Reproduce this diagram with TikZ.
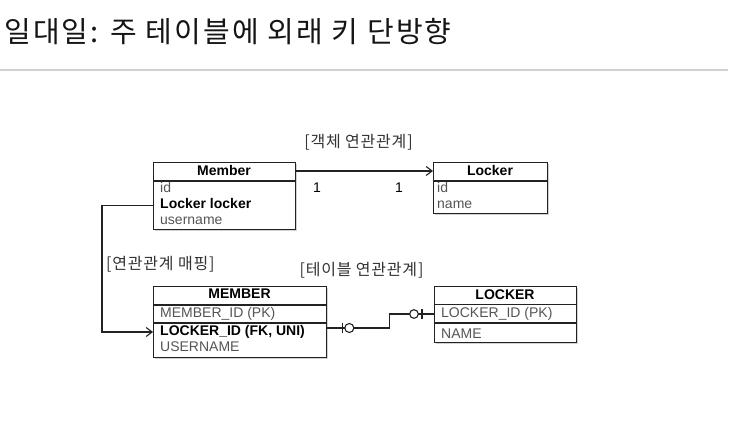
\documentclass[tikz,border=0pt]{standalone}
\usepackage{fontspec}
\setmainfont{Liberation Sans}
\newfontfamily\kr{Noto Sans CJK KR}
\newfontfamily\krwide[LetterSpace=7.5]{Noto Sans CJK KR}
\newfontfamily\krlab[LetterSpace=5]{Noto Sans CJK KR}
\usetikzlibrary{arrows.meta,shadows,calc}
\definecolor{ln}{HTML}{222222}
\definecolor{gtx}{HTML}{555555}
\definecolor{ktx}{HTML}{333333}
\definecolor{tcol}{HTML}{151515}
\definecolor{rulec}{HTML}{D0D0D0}
\begin{document}
\begin{tikzpicture}[x=1pt,y=-1pt,
  box/.style={draw=ln, line width=1.3pt, fill=white, inner sep=0, anchor=north west,
    drop shadow={shadow xshift=1.3pt, shadow yshift=-1.6pt, opacity=0.35}},
  sepline/.style={draw=ln, line width=1.3pt},
  hdr/.style={font=\fontsize{14}{16}\selectfont\bfseries, inner sep=0, anchor=base, text=black},
  row/.style={font=\fontsize{14}{16}\selectfont, inner sep=0, anchor=base west, text height=10pt, text depth=3pt, text=gtx},
  brow/.style={row, font=\fontsize{14}{16}\selectfont\bfseries, text=black},
  lab/.style={font=\krlab\fontsize{16}{18}\selectfont, text=ktx, inner sep=0},
  num/.style={font=\fontsize{14}{16}\selectfont, text=black, inner sep=0},
  conn/.style={draw=ln, line width=1.1pt},
  tip/.style={-{Straight Barb[length=6pt,width=9pt,line width=1.1pt]}}
]
\useasboundingbox[fill=white] (0,0) rectangle (747,422);

% title
\node[font=\krwide\fontsize{29}{34}\selectfont, anchor=base west, inner sep=0, text=tcol] (title) at (4,43) {일대일: 주 테이블에 외래 키 단방향};
\draw[draw=rulec, line width=2pt] (0,70) -- (728,70);

% Member (object)
\node[box, minimum width=142, minimum height=67] (memB) at (153,162) {};
\draw[sepline] (153,181) -- (295,181);
\node[hdr] (memT) at (224,176) {Member};
\node[row] (m1) at (160,193) {id};
\node[brow] (m2) at (160,209) {Locker locker};
\node[row] (m3) at (160,225) {username};

% Locker (object)
\node[box, minimum width=114, minimum height=51] (lckB) at (433,162) {};
\draw[sepline] (433,181) -- (547,181);
\node[hdr] (lckT) at (490,176) {Locker};
\node[row] (l1) at (437,193) {id};
\node[row] (l2) at (437,209) {name};

% object association
\draw[conn,tip] (memB.east |- memT) -- (lckB.west |- memT);
\node[num] (one1) at (317,188) {1};
\node[num] (one2) at (399,188) {1};
\node[lab] (lab1) at (358.5,142) {[객체 연관관계]};

% MEMBER (table)
\node[box, minimum width=173, minimum height=71] (MB) at (153,286) {};
\draw[sepline] (153,305) -- (326,305);
\draw[sepline] (153,323) -- (326,323);
\node[hdr] (MT) at (239.5,298.5) {MEMBER};
\node[row] (M1) at (160,317.5) {MEMBER\_ID (PK)};
\node[brow] (M2) at (160,335.5) {LOCKER\_ID (FK, UNI)};
\node[row] (M3) at (160,351) {USERNAME};

% LOCKER (table)
\node[box, minimum width=142, minimum height=56] (LB) at (434,286) {};
\draw[sepline] (434,304.5) -- (576,304.5);
\draw[sepline] (434,323) -- (576,323);
\node[hdr] (LT) at (505,299) {LOCKER};
\node[row] (L1) at (441,317.5) {LOCKER\_ID (PK)};
\node[row] (L2) at (441,338) {NAME};

% mapping connector
\coordinate (bendx) at (102,0);
\draw[conn,tip] (memB.west |- m2) -- (bendx |- m2) -- (bendx |- M2) -- (MB.west |- M2);
\node[lab, anchor=west] (lab2) at (106,264) {[연관관계 매핑]};

% table association
\coordinate (c1) at ($(MB.east |- M2)+(0,-4)$);
\coordinate (c2) at (LB.west |- L1);
\draw[conn] (c1) -- ++(62,0) |- (c2);
\draw[conn] ($(c1)+(15,-5)$) -- ++(0,10);
\draw[conn, fill=white] ($(c1)+(22,0)$) circle (4.5);
\draw[conn] ($(c2)+(-12,-5)$) -- ++(0,10);
\draw[conn, fill=white] ($(c2)+(-20,0)$) circle (4.3);
\node[lab] (lab3) at (361.5,270) {[테이블 연관관계]};
\end{tikzpicture}
\end{document}
